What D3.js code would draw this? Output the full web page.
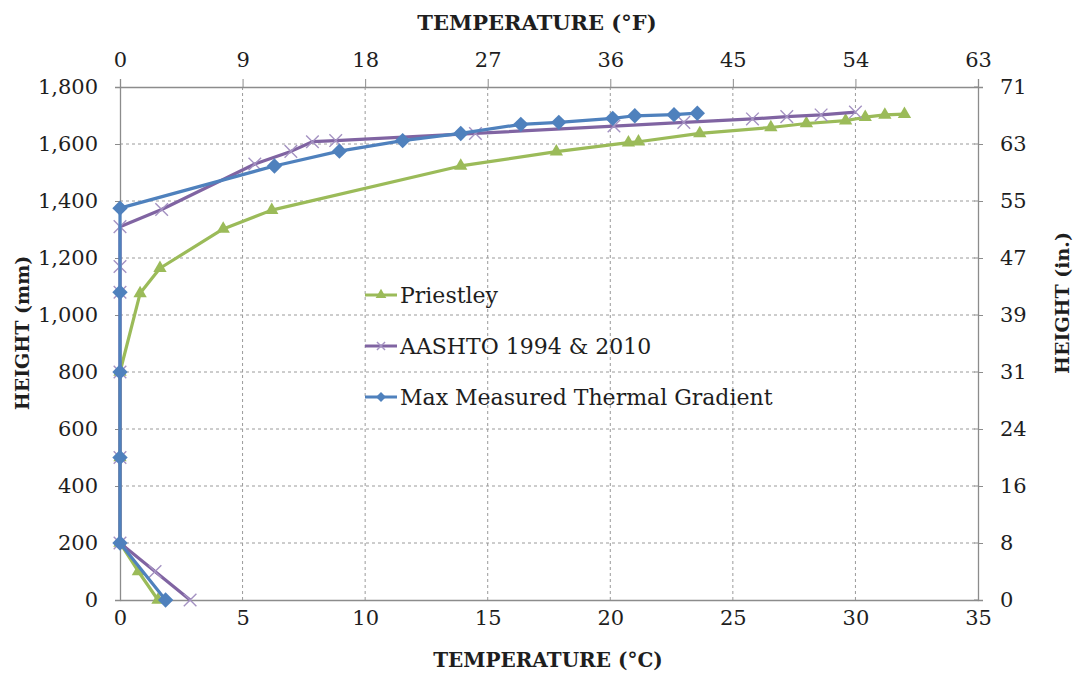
<!DOCTYPE html>
<html>
<head>
<meta charset="utf-8">
<script src="https://cdn.jsdelivr.net/npm/d3@7"></script>
<style>
  body { margin: 0; background: #fff; }
  text { font-family: "DejaVu Serif", serif; fill: #1e1e1e; }
</style>
</head>
<body>
<div id="chart"></div>
<script>
// series data, temperature in °C and height in mm
var priestleyTemp   = [1.55, 0.75, 0, 0, 0, 0.82, 1.63, 4.21, 6.19, 13.9, 17.8, 20.74, 21.15, 23.65, 26.55, 28.0, 29.6, 30.4, 31.2, 32.0];
var priestleyHeight = [0, 100, 200, 500, 800, 1076, 1164, 1302, 1368, 1523, 1573, 1605, 1608, 1637, 1658, 1672, 1682, 1694, 1702, 1705];

var aashtoTemp   = [2.86, 1.43, 0, 0, 0, 0, 0, 0, 1.7, 5.5, 6.97, 7.85, 8.8, 14.5, 20.15, 23.0, 25.8, 27.2, 28.6, 30.0];
var aashtoHeight = [0, 100, 200, 500, 800, 1080, 1170, 1310, 1370, 1530, 1574, 1608, 1612, 1637, 1663, 1676, 1688, 1696, 1702, 1712];

var measuredTemp   = [1.86, 0, 0, 0, 0, 0, 6.3, 8.95, 11.53, 13.9, 16.35, 17.9, 20.1, 21.0, 22.6, 23.55];
var measuredHeight = [0, 200, 500, 800, 1080, 1375, 1523, 1575, 1612, 1637, 1669, 1676, 1690, 1699, 1703, 1708];

var seriesNames = ["Priestley", "AASHTO 1994 & 2010", "Max Measured Thermal Gradient"];

// axis ticks
var celsiusTicks = [0, 5, 10, 15, 20, 25, 30, 35];
var fahrenheitLabels = ["0", "9", "18", "27", "36", "45", "54", "63"];
var mmTicks = [0, 200, 400, 600, 800, 1000, 1200, 1400, 1600, 1800];
var inchLabels = ["0", "8", "16", "24", "31", "39", "47", "55", "63", "71"];

var width = 1076, height = 673;
var margin = {top: 87, right: 98, bottom: 73, left: 120};
var w = width - margin.left - margin.right,
    h = height - margin.top - margin.bottom;

var x = d3.scaleLinear().domain([0, 35]).range([0, w]);
var y = d3.scaleLinear().domain([0, 1800]).range([h, 0]);

var svg = d3.select("#chart").append("svg")
    .attr("width", width)
    .attr("height", height)
  .append("g")
    .attr("transform", "translate(" + margin.left + "," + margin.top + ")");

// dashed gridlines
svg.append("g")
  .selectAll("line")
  .data(mmTicks.slice(1, -1))
  .enter().append("line")
    .attr("x1", 0).attr("x2", w)
    .attr("y1", d => y(d)).attr("y2", d => y(d))
    .attr("stroke", "#9a9a9a")
    .attr("stroke-dasharray", "3,3");

svg.append("g")
  .selectAll("line")
  .data(celsiusTicks.slice(1, -1))
  .enter().append("line")
    .attr("y1", 0).attr("y2", h)
    .attr("x1", d => x(d)).attr("x2", d => x(d))
    .attr("stroke", "#9a9a9a")
    .attr("stroke-dasharray", "3,3");

function styleAxis(g) {
  g.selectAll(".domain").attr("stroke", "#8c8c8c").attr("stroke-width", 1.3);
  g.selectAll(".tick line").attr("stroke", "#8c8c8c");
  g.selectAll("text").style("font-size", "21px").attr("fill", "#1e1e1e");
}

// bottom axis (°C)
svg.append("g")
    .attr("transform", "translate(0," + h + ")")
    .call(d3.axisBottom(x).tickValues(celsiusTicks).tickSize(0).tickPadding(10))
    .call(styleAxis);

// top axis (°F)
svg.append("g")
    .call(d3.axisTop(x).tickValues(celsiusTicks).tickSize(8).tickPadding(12)
      .tickFormat((d, i) => fahrenheitLabels[i]))
    .call(styleAxis);

// left axis (mm)
svg.append("g")
    .call(d3.axisLeft(y).tickValues(mmTicks).tickSize(5).tickPadding(17)
      .tickFormat(d3.format(",")))
    .call(styleAxis);

// right axis (in.)
svg.append("g")
    .attr("transform", "translate(" + w + ",0)")
    .call(d3.axisRight(y).tickValues(mmTicks).tickSizeInner(5).tickSizeOuter(5).tickPadding(17)
      .tickFormat((d, i) => inchLabels[i]))
    .call(styleAxis);
svg.append("g").attr("transform", "translate(" + w + ",0)")
  .selectAll("line").data(mmTicks).enter().append("line")
    .attr("x1", -4).attr("x2", 0)
    .attr("y1", d => y(d)).attr("y2", d => y(d))
    .attr("stroke", "#8c8c8c");

// axis titles
svg.append("text")
    .attr("x", 537 - margin.left).attr("y", 30 - margin.top)
    .attr("text-anchor", "middle")
    .style("font-size", "21px").style("font-weight", "bold")
    .text("TEMPERATURE (°F)");

svg.append("text")
    .attr("x", 548 - margin.left).attr("y", 667 - margin.top)
    .attr("text-anchor", "middle")
    .style("font-size", "20px").style("font-weight", "bold")
    .text("TEMPERATURE (°C)");

svg.append("text")
    .attr("transform", "translate(" + (29 - margin.left) + "," + (333 - margin.top) + ") rotate(-90)")
    .attr("text-anchor", "middle")
    .style("font-size", "19px").style("font-weight", "bold")
    .text("HEIGHT (mm)");

svg.append("text")
    .attr("transform", "translate(" + (1069 - margin.left) + "," + (303 - margin.top) + ") rotate(-90)")
    .attr("text-anchor", "middle")
    .style("font-size", "19px").style("font-weight", "bold")
    .text("HEIGHT (in.)");

// series
var series = [
  {name: seriesNames[0], temp: priestleyTemp, height: priestleyHeight, color: "#9bbb59", marker: "triangle"},
  {name: seriesNames[1], temp: aashtoTemp, height: aashtoHeight, color: "#8064a2", marker: "x"},
  {name: seriesNames[2], temp: measuredTemp, height: measuredHeight, color: "#4f81bd", marker: "diamond"}
];

var line = d3.line().x(d => x(d[0])).y(d => y(d[1]));

function drawMarker(g, type, color, size) {
  if (type === "triangle") {
    g.append("path").attr("d", d3.symbol(d3.symbolTriangle, size * 5.5)()).attr("fill", color);
  } else if (type === "diamond") {
    var s = size * 0.55;
    g.append("path").attr("d", "M0," + (-s) + "L" + s + ",0L0," + s + "L" + (-s) + ",0Z").attr("fill", color);
  } else {
    var s = size * 0.45;
    g.append("path").attr("d", "M" + (-s) + "," + (-s) + "L" + s + "," + s + "M" + (-s) + "," + s + "L" + s + "," + (-s))
      .attr("stroke", "#a492c2").attr("stroke-width", 1.4).attr("fill", "none");
  }
}

series.forEach(function(s) {
  var pts = s.temp.map((t, i) => [t, s.height[i]]);
  svg.append("path")
      .datum(pts)
      .attr("fill", "none")
      .attr("stroke", s.color)
      .attr("stroke-width", 3.2)
      .attr("stroke-linejoin", "round")
      .attr("d", line);
  pts.forEach(function(p) {
    var g = svg.append("g").attr("transform", "translate(" + x(p[0]) + "," + y(p[1]) + ")");
    drawMarker(g, s.marker, s.color, 14);
  });
});

// legend
var legend = svg.append("g").attr("transform", "translate(" + (365 - margin.left) + "," + (295 - margin.top) + ")");
series.forEach(function(s, i) {
  var row = legend.append("g").attr("transform", "translate(0," + (i * 51) + ")");
  row.append("line")
      .attr("x1", 0).attr("x2", 32)
      .attr("stroke", s.color).attr("stroke-width", 3);
  drawMarker(row.append("g").attr("transform", "translate(16,0)"), s.marker, s.color, 9);
  row.append("text")
      .attr("x", 35).attr("y", 8)
      .style("font-size", "22px")
      .text(s.name);
});
</script>
</body>
</html>
